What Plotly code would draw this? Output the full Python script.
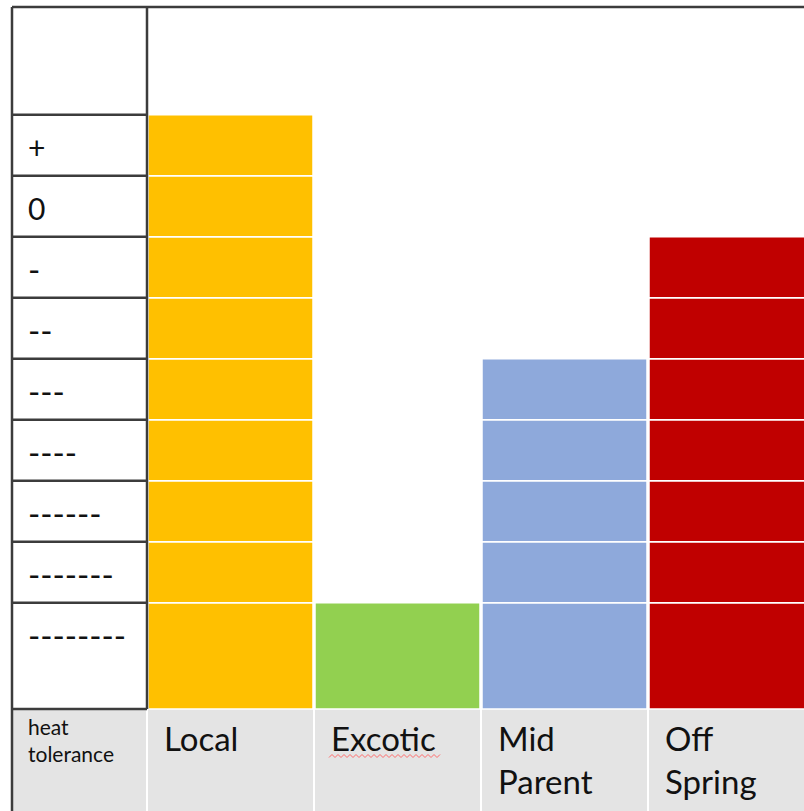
import plotly.graph_objects as go

# ---------------- data ----------------
categories = ["Local", "Excotic", "Mid Parent", "Off Spring"]
category_labels = ["Local", "Excotic", "Mid<br>Parent", "Off<br>Spring"]
# number of heat-tolerance levels reached (counted from the bottom level)
levels_reached = [9, 1, 5, 7]
# heat-tolerance level labels, from the lowest (bottom) to the highest (top)
level_labels = ["--------", "-------", "------", "----", "---", "--", "-", "0", "+"]
corner_label = "heat<br>tolerance"
spellcheck_word = "Excotic"   # word shown with a spell-check squiggle

# ---------------- styles ----------------
bar_colors = ["#FFC000", "#92D050", "#8EA9DB", "#C00000"]
GRID = "#3c3c3c"
GRAY = "#E4E4E4"
FONT = "Lato"
W, H = 804, 811
BOTTOM_ROW_H = 1.74  # the lowest row of the table is taller than the others


def px_x(p):
    return (p - 230.5) / 167.0


def px_y(p):
    return (709.0 - p) / 61.0


row_heights = [BOTTOM_ROW_H] + [1.0] * (len(level_labels) - 1)
row_bases = []
acc = 0.0
for h in row_heights:
    row_bases.append(acc)
    acc += h
row_tops = [b + h for b, h in zip(row_bases, row_heights)]

fig = go.Figure()
for cat, n, col in zip(categories, levels_reached, bar_colors):
    fig.add_trace(go.Bar(
        x=[cat] * n,
        y=row_heights[:n],
        base=row_bases[:n],
        width=0.988,
        marker=dict(color=col, line=dict(color="white", width=1.5)),
        hoverinfo="skip",
    ))

X_LEFT = px_x(12)
X_RIGHT = px_x(W)
Y_TOP = px_y(7)
Y_BOTTOM = px_y(H)

shapes = []
# gray header row
shapes.append(dict(type="rect", xref="x", yref="y", x0=X_LEFT, x1=X_RIGHT, y0=Y_BOTTOM, y1=0,
                   fillcolor=GRAY, line=dict(width=0), layer="below"))
for i in range(len(categories)):
    shapes.append(dict(type="line", xref="x", yref="y", x0=i - 0.5, x1=i - 0.5, y0=Y_BOTTOM, y1=0,
                       line=dict(color="white", width=2)))
# table borders
shapes.append(dict(type="line", xref="x", yref="y", x0=X_LEFT, x1=X_RIGHT, y0=Y_TOP, y1=Y_TOP,
                   line=dict(color=GRID, width=2.5)))
shapes.append(dict(type="line", xref="x", yref="y", x0=X_LEFT, x1=X_LEFT, y0=Y_BOTTOM, y1=Y_TOP,
                   line=dict(color=GRID, width=2.5)))
shapes.append(dict(type="line", xref="x", yref="y", x0=-0.5, x1=-0.5, y0=0, y1=Y_TOP,
                   line=dict(color=GRID, width=2.5)))
for yb in [0.0] + row_tops:
    shapes.append(dict(type="line", xref="x", yref="y", x0=X_LEFT, x1=-0.5, y0=yb, y1=yb,
                       line=dict(color=GRID, width=2.5)))

annotations = []
for lab, top in zip(level_labels, row_tops):
    size = 30 if lab in ("+", "0") else 33
    annotations.append(dict(x=px_x(26), y=top - 0.53, xref="x", yref="y", text=lab,
                            showarrow=False, xanchor="left", yanchor="middle",
                            font=dict(family=FONT, size=size, color="#111")))
annotations.append(dict(x=px_x(26), y=px_y(712), xref="x", yref="y", text=corner_label,
                        showarrow=False, xanchor="left", yanchor="top", align="left",
                        font=dict(family=FONT, size=21, color="#111")))
for i, lab in enumerate(category_labels):
    x_left = i - 0.5 + 15 / 167.0
    annotations.append(dict(x=x_left, y=px_y(716), xref="x", yref="y", text=lab,
                            showarrow=False, xanchor="left", yanchor="top", align="left",
                            font=dict(family=FONT, size=33, color="#111")))
    if categories[i] == spellcheck_word:
        # spell-check style wavy underline, drawn as a decorative path under the word
        col_left_px = 230.5 + 167.0 * (i - 0.5)
        start_px = col_left_px + 15
        pts = []
        step = 3.0
        k = 0
        while start_px + k * step <= start_px + 112:
            yy = 754.5 if k % 2 else 757.5
            pts.append((px_x(start_px + k * step), px_y(yy)))
            k += 1
        path = "M " + " L ".join(f"{x:.5f},{y:.5f}" for x, y in pts)
        shapes.append(dict(type="path", xref="x", yref="y", path=path,
                           line=dict(color="#ff6b6b", width=1)))

fig.update_layout(
    width=W, height=H,
    margin=dict(l=0, r=0, t=0, b=0),
    paper_bgcolor="white", plot_bgcolor="white",
    barmode="overlay", showlegend=False,
    xaxis=dict(type="category", categoryorder="array", categoryarray=categories,
               range=[px_x(0), px_x(W)], visible=False, fixedrange=True),
    yaxis=dict(range=[Y_BOTTOM, px_y(0)], visible=False, fixedrange=True),
    shapes=shapes, annotations=annotations,
)

fig.write_html("out.html")
